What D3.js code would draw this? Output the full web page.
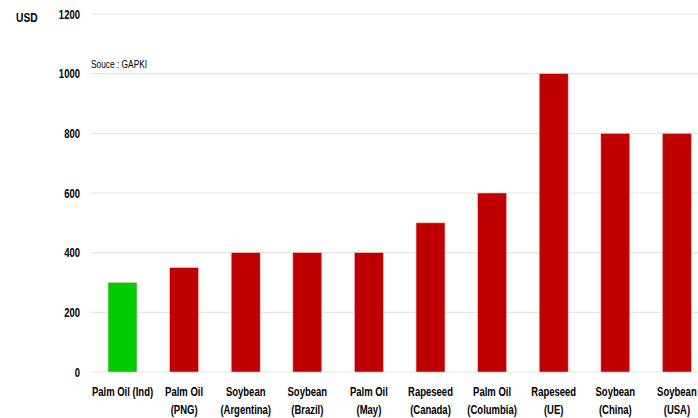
<!DOCTYPE html>
<html><head><meta charset="utf-8">
<script src="https://cdn.jsdelivr.net/npm/d3@7"></script>
<style>
body{margin:0;background:#fff;}
text{font-family:"Liberation Sans",Arial,sans-serif;}
</style></head><body>
<svg id="c" width="698" height="418"></svg>
<script>
const categories = [["Palm Oil (Ind)"],["Palm Oil","(PNG)"],["Soybean","(Argentina)"],["Soybean","(Brazil)"],["Palm Oil","(May)"],["Rapeseed","(Canada)"],["Palm Oil","(Columbia)"],["Rapeseed","(UE)"],["Soybean","(China)"],["Soybean","(USA)"]];
const values = [300,350,400,400,400,500,600,1000,800,800];
const barColors = ["#00CC00","#C00000","#C00000","#C00000","#C00000","#C00000","#C00000","#C00000","#C00000","#C00000"];
const yTicks = [0,200,400,600,800,1000,1200];

const SX = 0.76;
const svg = d3.select("#c");
const x = d3.scaleBand().domain(d3.range(categories.length)).range([91.7,707.7]).paddingInner(0.53).paddingOuter(0.265);
const y = d3.scaleLinear().domain([0,1200]).range([372,14]);

function label(g, px, py, anchor, size, weight, s){
  return g.append("text").attr("transform",`translate(${px},${py}) scale(${SX},1)`)
    .attr("text-anchor",anchor).attr("font-size",size).attr("font-weight",weight).attr("fill","#000").text(s);
}

svg.append("g").selectAll("line").data(yTicks).join("line")
  .attr("x1",91).attr("x2",698).attr("y1",d=>y(d)).attr("y2",d=>y(d))
  .attr("stroke","#e4e4e4").attr("stroke-width",1.2);

const yl = svg.append("g");
yTicks.forEach(d=>label(yl,80,y(d)+4.5,"end",12.5,"bold",d));

svg.append("g").selectAll("rect").data(values).join("rect")
  .attr("x",(d,i)=>x(i)).attr("width",x.bandwidth())
  .attr("y",d=>y(d)).attr("height",d=>y(0)-y(d))
  .attr("fill",(d,i)=>barColors[i]).attr("stroke","#f2c0c0").attr("stroke-width",0.6);

const lab = svg.append("g");
categories.forEach((c,i)=>{
  c.forEach((s,j)=>label(lab,x(i)+x.bandwidth()/2,396+j*18,"middle",12.5,"bold",s));
});

label(svg,16,22,"start",13.5,"bold","USD");
label(svg,91,68,"start",11,"normal","Souce : GAPKI");
</script></body></html>
